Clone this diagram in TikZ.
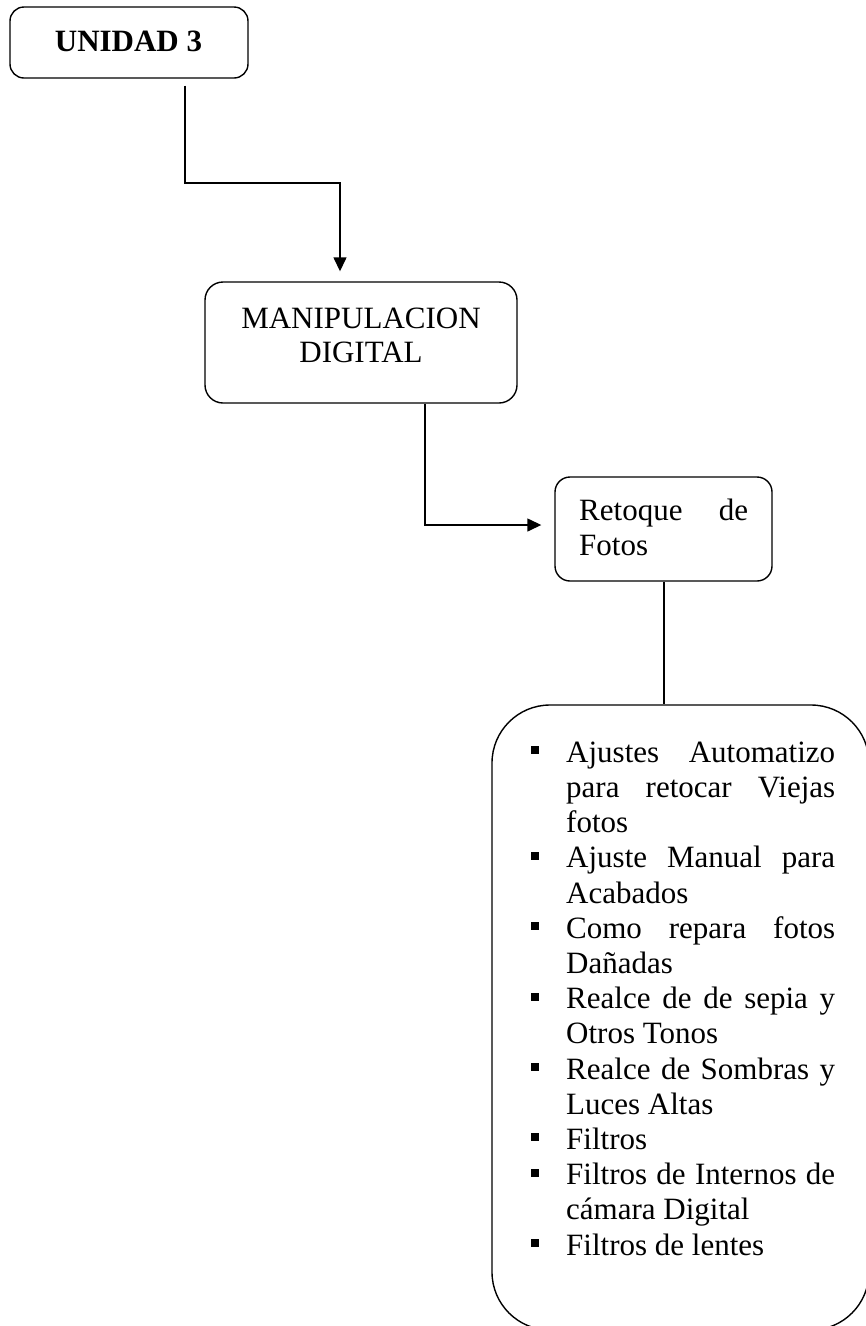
\documentclass[tikz,border=0pt]{standalone}
\usepackage{fontspec}
\setmainfont{Liberation Serif}
\usetikzlibrary{arrows.meta}
\newcommand\BulJ[1]{\makebox[35pt][l]{\rule[8pt]{8pt}{8pt}}\makebox[269pt][s]{#1}}
\newcommand\BulL[1]{\makebox[35pt][l]{\rule[8pt]{8pt}{8pt}}#1}
\newcommand\ConJ[1]{\hspace*{35pt}\makebox[269pt][s]{#1}}
\newcommand\ConL[1]{\hspace*{35pt}#1}
\tikzset{
  box/.style={draw, line width=1.4pt, inner sep=0pt},
  conn/.style={line width=1.4pt},
  tip/.style={-{Triangle[width=13pt,length=14pt]}},
  txt/.style={inner sep=0pt, font=\fontsize{31}{35}\selectfont}
}
\begin{document}
\begin{tikzpicture}[x=1pt,y=-1pt]
\useasboundingbox (0,0) rectangle (866,1326);
\clip (0,0) rectangle (866,1326);
% boxes
\node[box, rounded corners=14pt, minimum width=238pt, minimum height=71pt] (u) at (129,42.5) {};
\node[box, rounded corners=18pt, minimum width=312pt, minimum height=121pt] (m) at (361,342.5) {};
\node[box, rounded corners=15pt, minimum width=217pt, minimum height=104pt] (r) at (663.5,529) {};
\node[box, rounded corners=58pt, minimum width=377pt, minimum height=625pt] (b) at (680.5,1017.5) {};
% texts
\node[txt, anchor=base, font=\fontsize{31}{35}\selectfont\bfseries] (ut) at (128.5,51) {UNIDAD 3};
\node[txt, anchor=north, align=center, font=\fontsize{31}{34}\selectfont] (mt) at (361,304.2) {\strut MANIPULACION\\DIGITAL};
\node[txt, anchor=north west, align=left] (rt) at (579,495.5) {\strut\makebox[169pt][s]{Retoque de}\\Fotos};
\node[txt, anchor=north west, align=left, font=\fontsize{31}{35.2}\selectfont] (bt) at (531,737.4) {%
\strut\BulJ{Ajustes Automatizo}\\
\ConJ{para retocar Viejas}\\
\ConL{fotos}\\
\BulJ{Ajuste Manual para}\\
\ConL{Acabados}\\
\BulJ{Como repara fotos}\\
\ConL{Dañadas}\\
\BulJ{Realce de de sepia y}\\
\ConL{Otros Tonos}\\
\BulJ{Realce de Sombras y}\\
\ConL{Luces Altas}\\
\BulL{Filtros}\\
\BulJ{Filtros de Internos de}\\
\ConL{cámara Digital}\\
\BulL{Filtros de lentes}};
% connectors
\coordinate (k1) at (185,183);
\coordinate (k2) at (340,183);
\coordinate (k3) at (425,525);
\coordinate (k4) at (664,600);
\draw[conn, tip] ([yshift=-7pt]u.south -| k1) -- (k1) -- (k2) -- ([yshift=10pt]m.north -| k2);
\draw[conn, tip] (m.south -| k3) -- (k3) -- ([xshift=-13pt]r.west |- k3);
\draw[conn] (r.south -| k4) -- (b.north -| k4);
\end{tikzpicture}
\end{document}
